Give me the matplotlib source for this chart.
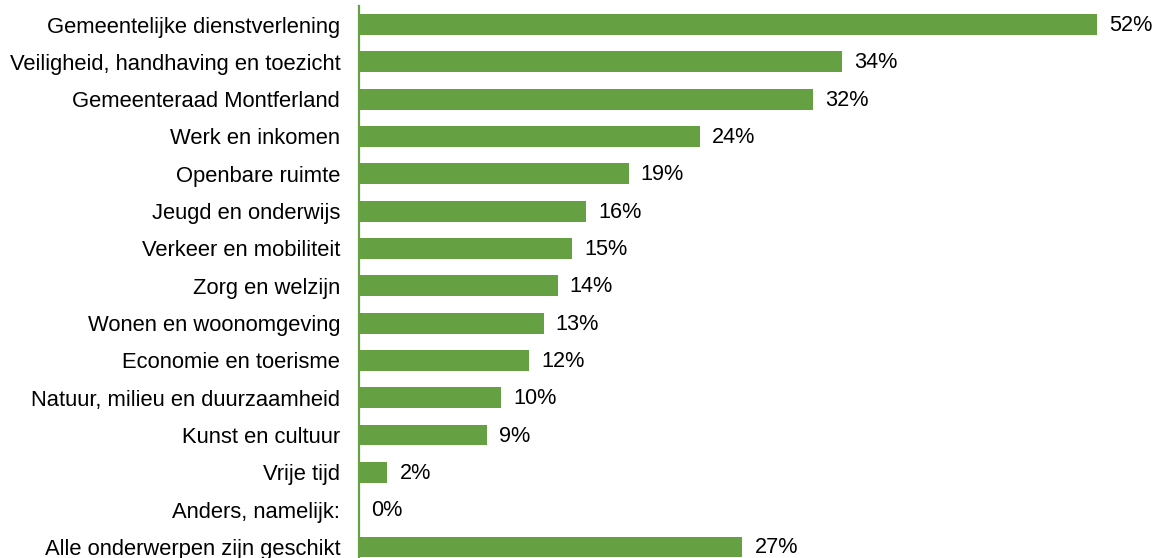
import matplotlib.pyplot as plt

plt.rcParams['font.family'] = ['Liberation Sans', 'DejaVu Sans']

categories = [
    'Gemeentelijke dienstverlening',
    'Veiligheid, handhaving en toezicht',
    'Gemeenteraad Montferland',
    'Werk en inkomen',
    'Openbare ruimte',
    'Jeugd en onderwijs',
    'Verkeer en mobiliteit',
    'Zorg en welzijn',
    'Wonen en woonomgeving',
    'Economie en toerisme',
    'Natuur, milieu en duurzaamheid',
    'Kunst en cultuur',
    'Vrije tijd',
    'Anders, namelijk:',
    'Alle onderwerpen zijn geschikt',
]
values = [52, 34, 32, 24, 19, 16, 15, 14, 13, 12, 10, 9, 2, 0, 27]

green = '#65a043'

W, H = 1158, 558
fig = plt.figure(figsize=(W / 100, H / 100), dpi=100)
ax = fig.add_axes([359 / W, 0, (W - 359) / W, (H - 6) / H])

y = list(range(len(categories)))
ax.barh(y, values, height=0.56, color=green)

# percentage labels just right of each bar
for yi, v in zip(y, values):
    ax.annotate(f'{v}%', (v, yi), xytext=(12, -1), textcoords='offset pixels',
                va='center', ha='left', fontsize=15.6, color='black')

ax.set_xlim(0, (W - 359) / 14.2)
ax.set_ylim(len(categories) - 1 + 0.295, -0.496)

ax.set_yticks(y)
ax.set_yticklabels(categories, fontsize=15.8)
ax.tick_params(axis='y', length=0, pad=13.5)
ax.set_xticks([])

for side in ['top', 'right', 'bottom']:
    ax.spines[side].set_visible(False)
ax.spines['left'].set_color(green)
ax.spines['left'].set_linewidth(1.6)

fig.savefig('out.png', dpi=100)
